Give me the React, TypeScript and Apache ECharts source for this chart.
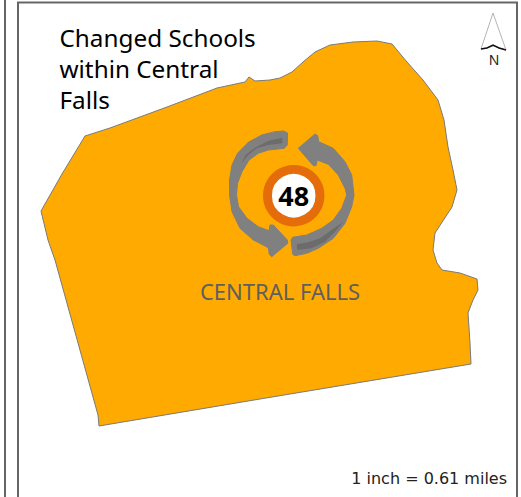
import React, { useEffect, useRef } from "react";
import * as echarts from "echarts";

const W = 521;
const H = 497;
const titleLines = ["Changed Schools", "within Central", "Falls"];
const placeName = "CENTRAL FALLS";
const scaleNote = "1 inch = 0.61 miles";
const changedSchools = 48;
const centre: [number, number] = [293.7, 195.7];

const outline: [number, number][] = [
  [41, 211], [62, 174], [85, 136], [110, 128], [167, 107], [217, 88], [245, 82], [249, 77], [255, 81], [270, 80],
  [280, 78], [292, 72], [303, 62], [315, 52], [330, 45], [353, 42], [377, 41], [392, 44], [407, 62],
  [423, 80], [438, 100], [444, 120], [448, 147], [453, 170], [457, 190], [452, 207], [435, 233],
  [433, 250], [437, 263], [442, 270], [460, 273], [477, 279], [478, 290], [473, 300], [468, 313],
  [470, 343], [471, 364], [260, 399], [99, 426], [98, 415], [55, 260], [48, 240],
];

const arrowLeft: [number, number][] = [
  [283.3, 131], [275, 131.7], [261.7, 135], [248.3, 142.3], [237.5, 153.3], [232, 165], [229.5, 180], [229.5, 195],
  [232, 211.7], [240, 228.3], [253.3, 240], [268.3, 247.7], [269.3, 254.3], [271.7, 256.7], [287.8, 243.3],
  [287.3, 240], [273.3, 225], [270, 225], [269, 230.7], [258.3, 226.7], [247, 218.3], [238.5, 206.7], [236.5, 195],
  [237.5, 183.3], [242, 171.7], [249, 160], [258.3, 153.3], [268.3, 150], [284.3, 148.3], [287.3, 145], [287.6, 133],
];
const arrowRight: [number, number][] = [
  [298.3, 148.3], [315, 134], [317.7, 135.7], [318.7, 141.7], [333.3, 148.3], [345, 161.7], [351.7, 175], [354, 195],
  [351.7, 206.7], [345, 223.3], [333.3, 238.3], [318.3, 248.3], [306.7, 253.3], [295, 255.7], [292.7, 254.3],
  [291, 240], [292.7, 237.3], [306.7, 235], [321.7, 228.3], [333.3, 220], [341.7, 208.3], [346.7, 195],
  [345, 188.3], [338.3, 175], [328.3, 164.3], [317.3, 160], [316, 165.7], [313.3, 165.7],
];
const shadeTop: [number, number][] = [
  [282.3, 137.7], [282.3, 143.3], [268.3, 145], [256.7, 148.3], [248.3, 155], [241.5, 163.3], [245.5, 155], [255, 147.7], [268.3, 140.7],
];
const shadeBottom: [number, number][] = [
  [296.7, 244.3], [297.3, 250], [311.7, 248.3], [325, 241.7], [335, 231.7], [343.3, 221.7], [331.7, 230], [320, 238.3], [308.3, 242.3],
];
const northArrow: [number, number][] = [[493, 13], [506, 50], [494, 46], [481, 49]];
const northNotch: [number, number][] = [[481, 49], [487, 48], [493, 45], [499, 48], [506, 50]];

export default function App() {
  const ref = useRef<HTMLDivElement>(null);
  useEffect(() => {
    document.body.style.margin = "0";
    document.body.style.background = "#fff";
    const chart = echarts.init(ref.current!, undefined, { renderer: "svg" });
    const poly = (pts: [number, number][], style: any, name: string) => ({
      type: "custom",
      name,
      coordinateSystem: "cartesian2d",
      silent: true,
      data: [pts[0]],
      encode: { x: 0, y: 1 },
      renderItem: (_p: any, api: any) => ({
        type: "polygon",
        shape: { points: pts.map((q) => api.coord(q)) },
        style,
      }),
    });
    const textEl = (text: string, x: number, y: number, size: number, fill: string, family: string, align = "left") => ({
      type: "text",
      x,
      y,
      z: 20,
      silent: true,
      style: { text, fontSize: size, fill, fontFamily: family, textAlign: align, textVerticalAlign: "middle" },
    });
    chart.setOption({
      animation: false,
      grid: { left: 0, right: 0, top: 0, bottom: 0 },
      xAxis: { type: "value", min: 0, max: W, show: false },
      yAxis: { type: "value", min: 0, max: H, inverse: true, show: false },
      series: [
        poly(outline, { fill: "#FFAA00", stroke: "#7a7a7a", lineWidth: 1 }, "Central Falls"),
        poly(arrowLeft, { fill: "#808080", stroke: "#808080", lineWidth: 1, lineJoin: "round" }, "arrow left"),
        poly(arrowRight, { fill: "#808080", stroke: "#808080", lineWidth: 1, lineJoin: "round" }, "arrow right"),
        poly(shadeTop, { fill: "#6c6c6c" }, "shade top"),
        poly(shadeBottom, { fill: "#6c6c6c" }, "shade bottom"),
        poly(northArrow, { fill: "#fff", stroke: "#b5b5b5", lineWidth: 1 }, "north"),
        {
          type: "custom",
          name: "north notch",
          coordinateSystem: "cartesian2d",
          silent: true,
          data: [northNotch[0]],
          encode: { x: 0, y: 1 },
          renderItem: (_p: any, api: any) => ({
            type: "polyline",
            shape: { points: northNotch.map((q) => api.coord(q)) },
            style: { stroke: "#111", lineWidth: 1.5, fill: "none" },
          }),
        },
        {
          type: "scatter",
          name: "Changed schools",
          silent: true,
          symbol: "circle",
          symbolSize: 52.5,
          data: [{ value: centre }],
          itemStyle: { color: "#fff", borderColor: "#E46C0A", borderWidth: 9, opacity: 1 },
          label: {
            show: true,
            position: "inside",
            formatter: String(changedSchools),
            color: "#000",
            fontSize: 27,
            fontWeight: "bold",
            fontFamily: "Open Sans",
          },
        },
      ],
      graphic: {
        elements: [
          { type: "rect", z: 20, silent: true, shape: { x: 4, y: 0, width: 2, height: 497 }, style: { fill: "#666" } },
          { type: "rect", z: 20, silent: true, shape: { x: 17, y: 2, width: 2, height: 495 }, style: { fill: "#666" } },
          { type: "rect", z: 20, silent: true, shape: { x: 17, y: 1.5, width: 501, height: 2 }, style: { fill: "#666" } },
          { type: "rect", z: 20, silent: true, shape: { x: 516, y: 2, width: 2, height: 495 }, style: { fill: "#666" } },
          ...titleLines.map((t, i) => textEl(t, 59.5, 37.5 + i * 31, 24.3, "#000", "Noto Sans")),
          textEl(placeName, 280, 291, 22, "#5f5f5f", "Noto Sans", "center"),
          textEl(scaleNote, 507, 478, 16, "#222", "DejaVu Sans", "right"),
          textEl("N", 494, 59, 14, "#222", "Noto Sans", "center"),
        ],
      },
    });
    return () => chart.dispose();
  }, []);
  return <div ref={ref} style={{ width: W, height: H }} />;
}
